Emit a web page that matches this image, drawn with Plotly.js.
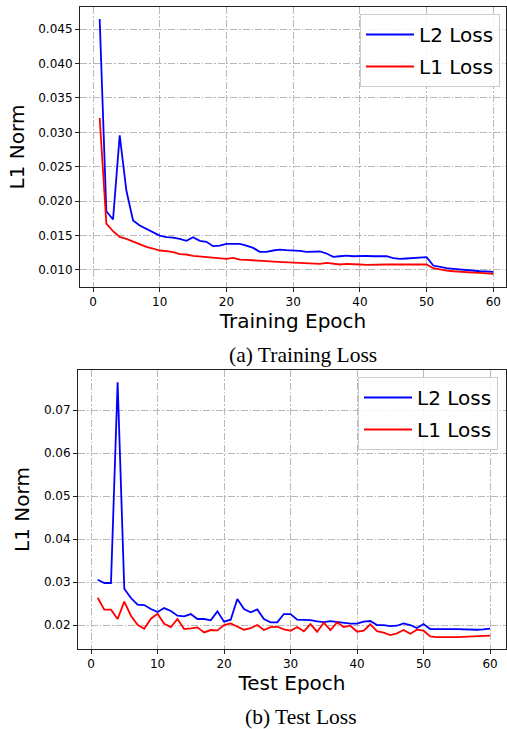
<!DOCTYPE html>
<html>
<head>
<meta charset="utf-8">
<script src="https://cdn.plot.ly/plotly-3.0.1.min.js"></script>
<style>html,body{margin:0;padding:0;background:#fff}#chart{width:507px;height:729px}</style>
</head>
<body>
<div id="chart"></div>
<script>
// Training loss (top chart)
const trainEpochs = Array.from({length: 60}, (_, i) => i + 1);
const trainL2 = [0.04645,0.01854,0.01733,0.02957,0.02154,0.01718,0.01646,0.01597,0.01549,0.01500,
0.01476,0.01470,0.01452,0.01423,0.01476,0.01423,0.01409,0.01346,0.01355,0.01380,
0.01380,0.01380,0.01355,0.01321,0.01263,0.01263,0.01283,0.01297,0.01288,0.01288,
0.01278,0.01264,0.01269,0.01269,0.01240,0.01191,0.01200,0.01210,0.01200,0.01205,
0.01205,0.01200,0.01205,0.01200,0.01171,0.01162,0.01167,0.01176,0.01181,0.01186,
0.01065,0.01041,0.01026,0.01017,0.01007,0.00997,0.00992,0.00982,0.00978,0.00973];
const trainL1 = [0.03208,0.01675,0.01563,0.01481,0.01452,0.01413,0.01365,0.01336,0.01312,0.01283,
0.01273,0.01259,0.01230,0.01225,0.01205,0.01196,0.01191,0.01176,0.01167,0.01162,
0.01176,0.01152,0.01147,0.01138,0.01133,0.01128,0.01123,0.01118,0.01109,0.01104,
0.01109,0.01104,0.01099,0.01089,0.01104,0.01089,0.01080,0.01089,0.01089,0.01080,
0.01075,0.01080,0.01075,0.01080,0.01080,0.01080,0.01089,0.01084,0.01084,0.01080,
0.01026,0.01007,0.00992,0.00982,0.00973,0.00968,0.00963,0.00958,0.00954,0.00944];

// Test loss (bottom chart)
const testEpochs = Array.from({length: 60}, (_, i) => i + 1);
const testL2 = [0.03054,0.02977,0.02977,0.07643,0.02845,0.02628,0.02473,0.02465,0.02372,0.02302,
0.02395,0.02326,0.02217,0.02202,0.02256,0.02140,0.02140,0.02109,0.02318,0.02078,
0.02124,0.02605,0.02372,0.02295,0.02364,0.02140,0.02062,0.02062,0.02256,0.02256,
0.02124,0.02124,0.02116,0.02085,0.02070,0.02093,0.02070,0.02039,0.02031,0.02031,
0.02078,0.02093,0.02000,0.02000,0.01977,0.01984,0.02039,0.02000,0.01930,0.02023,
0.01907,0.01907,0.01915,0.01907,0.01907,0.01899,0.01884,0.01891,0.01899,0.01915];
const testL1 = [0.02636,0.02357,0.02357,0.02140,0.02543,0.02217,0.02008,0.01915,0.02147,0.02264,
0.02031,0.01953,0.02140,0.01907,0.01922,0.01946,0.01829,0.01884,0.01876,0.02000,
0.02039,0.01961,0.01891,0.01930,0.02000,0.01884,0.01953,0.01961,0.01899,0.01868,
0.01953,0.01853,0.02023,0.01845,0.02054,0.01884,0.02062,0.01953,0.01984,0.01845,
0.01868,0.02016,0.01860,0.01822,0.01767,0.01806,0.01884,0.01798,0.01891,0.01868,
0.01736,0.01721,0.01713,0.01721,0.01721,0.01729,0.01744,0.01744,0.01752,0.01752];

const xTicks = [0,10,20,30,40,50,60];
const trainYTicks = [0.010,0.015,0.020,0.025,0.030,0.035,0.040,0.045];
const testYTicks = [0.02,0.03,0.04,0.05,0.06,0.07];

const W = 507, H = 729;
const font = 'DejaVu Sans, sans-serif';
const gridStyle = {showgrid: true, gridcolor: '#b8b8b8', gridwidth: 1, griddash: '7px,2px,1.5px,2px'};
function axisBase() {
  return Object.assign({
    showline: true, mirror: true, linecolor: '#222', linewidth: 1,
    ticks: 'outside', ticklen: 4, tickcolor: '#222', tickwidth: 1,
    zeroline: false, automargin: false,
    tickfont: {family: font, size: 12, color: '#000'}
  }, gridStyle);
}

const traces = [
  {x: trainEpochs, y: trainL2, name: 'L2 Loss', type: 'scatter', mode: 'lines', legendgroup: 'a1',
   line: {color: '#0000ff', width: 1.8}, xaxis: 'x', yaxis: 'y', legend: 'legend'},
  {x: trainEpochs, y: trainL1, name: 'L1 Loss', type: 'scatter', mode: 'lines', legendgroup: 'a2',
   line: {color: '#ff0000', width: 1.8}, xaxis: 'x', yaxis: 'y', legend: 'legend'},
  {x: testEpochs, y: testL2, name: 'L2 Loss', type: 'scatter', mode: 'lines', legendgroup: 'b1',
   line: {color: '#0000ff', width: 1.8}, xaxis: 'x2', yaxis: 'y2', legend: 'legend2'},
  {x: testEpochs, y: testL1, name: 'L1 Loss', type: 'scatter', mode: 'lines', legendgroup: 'b2',
   line: {color: '#ff0000', width: 1.8}, xaxis: 'x2', yaxis: 'y2', legend: 'legend2'}
];

const legendBase = {
  font: {family: font, size: 20, color: '#000'},
  bgcolor: 'rgba(255,255,255,0.85)', bordercolor: '#cccccc', borderwidth: 1,
  xanchor: 'right', yanchor: 'top', tracegroupgap: 3, itemwidth: 48
};

const layout = {
  width: W, height: H,
  margin: {l: 0, r: 0, t: 0, b: 0},
  paper_bgcolor: '#fff', plot_bgcolor: '#fff',
  showlegend: true,
  xaxis: Object.assign(axisBase(), {
    domain: [80/W, 506/W], range: [-1.95, 61.9], tickvals: xTicks, anchor: 'y',
    title: {text: 'Training Epoch', font: {family: font, size: 20, color: '#000'}, standoff: 4}
  }),
  yaxis: Object.assign(axisBase(), {
    domain: [1 - 287/H, 1 - 7/H], range: [0.00753, 0.0482], tickvals: trainYTicks,
    tickformat: '.3f', anchor: 'x',
    title: {text: 'L1 Norm', font: {family: font, size: 20, color: '#000'}, standoff: 8}
  }),
  xaxis2: Object.assign(axisBase(), {
    domain: [78/W, 506/W], range: [-1.96, 62.4], tickvals: xTicks, anchor: 'y2',
    title: {text: 'Test Epoch', font: {family: font, size: 20, color: '#000'}, standoff: 4}
  }),
  yaxis2: Object.assign(axisBase(), {
    domain: [1 - 649/H, 1 - 370/H], range: [0.01443, 0.0793], tickvals: testYTicks,
    tickformat: '.2f', anchor: 'x2',
    title: {text: 'L1 Norm', font: {family: font, size: 20, color: '#000'}, standoff: 8}
  }),
  legend: Object.assign({}, legendBase, {x: 500/W, y: 1 - 14/H}),
  legend2: Object.assign({}, legendBase, {x: 498/W, y: 1 - 377/H}),
  annotations: [
    {text: '(a) Training Loss', xref: 'paper', yref: 'paper', x: 303/W, y: 1 - 355/H,
     xanchor: 'center', yanchor: 'middle', showarrow: false,
     font: {family: 'Liberation Serif, Times New Roman, serif', size: 21.5, color: '#000'}},
    {text: '(b) Test Loss', xref: 'paper', yref: 'paper', x: 301/W, y: 1 - 717/H,
     xanchor: 'center', yanchor: 'middle', showarrow: false,
     font: {family: 'Liberation Serif, Times New Roman, serif', size: 21.5, color: '#000'}}
  ]
};

Plotly.newPlot('chart', traces, layout, {staticPlot: true, displayModeBar: false});
</script>
</body>
</html>
